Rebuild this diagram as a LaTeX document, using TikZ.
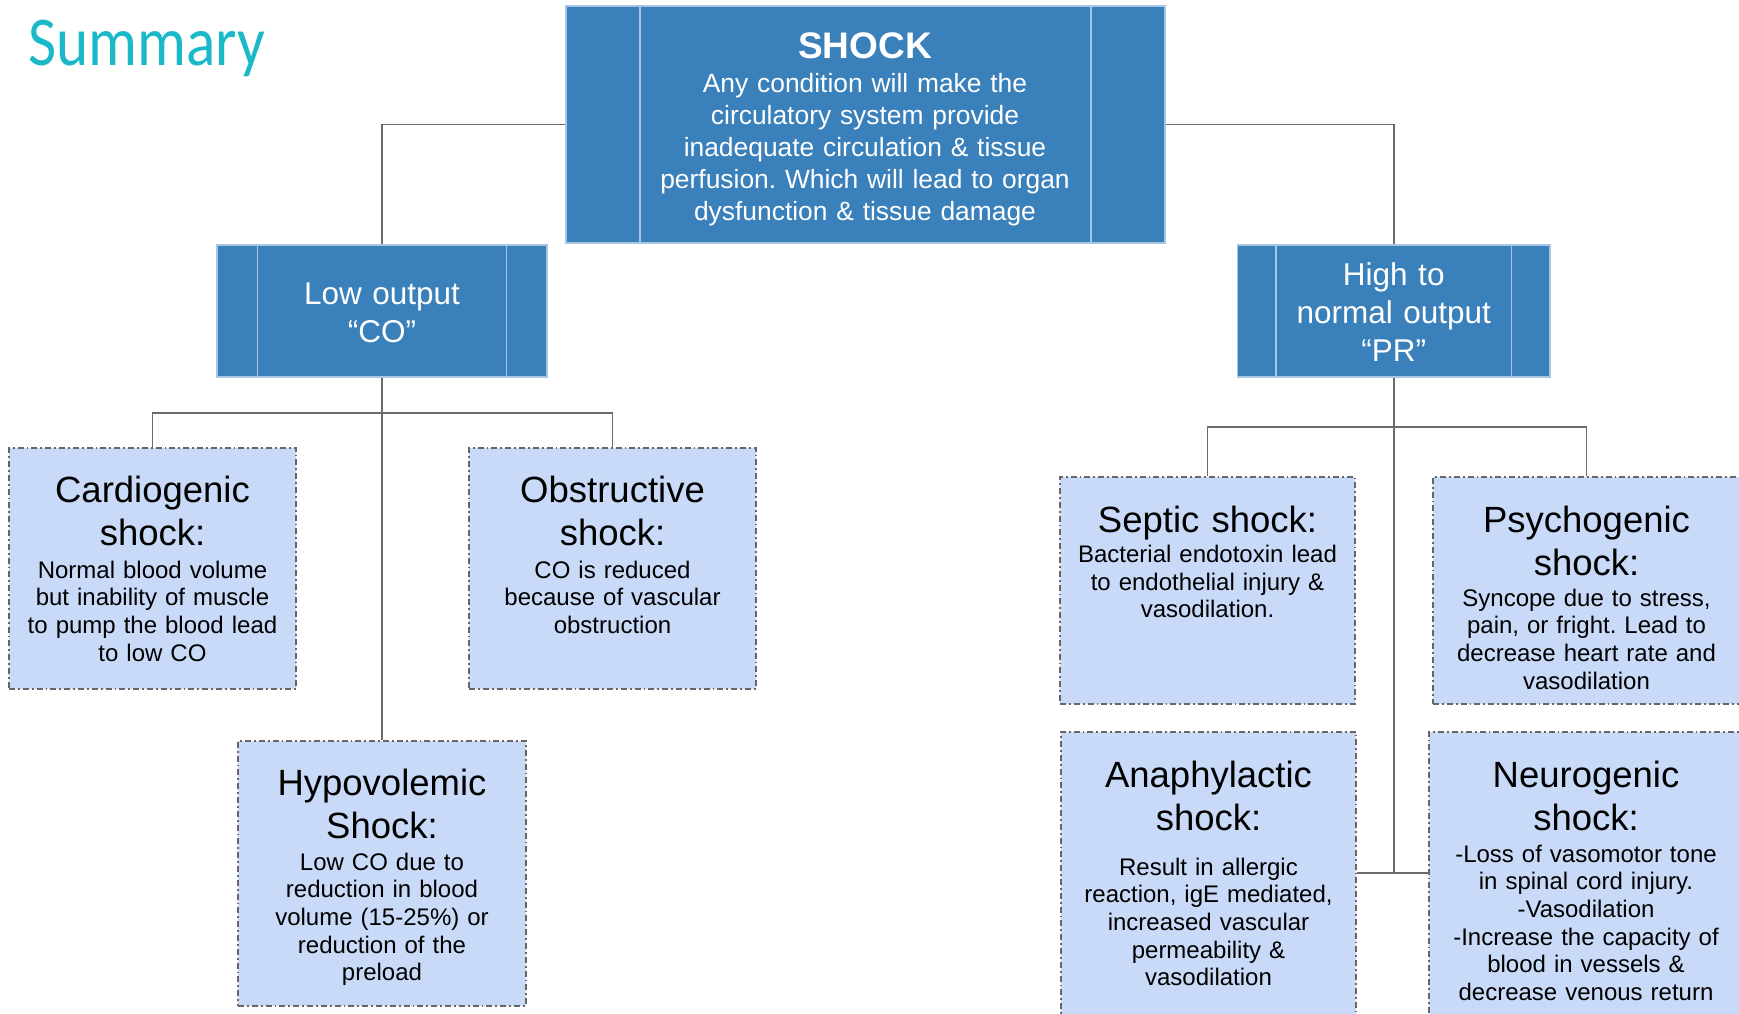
\documentclass[tikz,border=0pt]{standalone}
\usepackage{graphicx}
\usepackage{fontspec}
\setmainfont{Liberation Sans}
\newfontfamily\headfont{Carlito}
\frenchspacing

\definecolor{procblue}{HTML}{3A80BA}
\definecolor{procedge}{HTML}{A8C6E4}
\definecolor{typefill}{HTML}{C9DAF8}
\definecolor{typeedge}{HTML}{666666}
\definecolor{linkgray}{HTML}{6B6B6B}
\definecolor{headteal}{HTML}{1AB8C8}

\tikzset{
  proc/.style={rectangle, fill=procblue, draw=procedge, line width=1.2pt, inner sep=0pt,
    path picture={
      \draw[procedge, line width=1.2pt]
        ([xshift=#1]path picture bounding box.north west) -- ([xshift=#1]path picture bounding box.south west)
        ([xshift=-#1]path picture bounding box.north east) -- ([xshift=-#1]path picture bounding box.south east);
    }},
  typebox/.style={rectangle, fill=typefill, draw=typeedge, line width=1.4pt,
    dash pattern=on 6pt off 3pt on 1.8pt off 3pt, inner sep=0pt},
  link/.style={draw=linkgray, line width=1.8pt},
  txt/.style={anchor=base, inner sep=0pt, align=center, text width=#1},
  txt/.default=320pt,
  ttl/.style={txt, font=\fontsize{36.5}{43}\selectfont},
  bdy/.style={txt, font=\fontsize{24}{27.7}\selectfont},
  proctxt/.style={txt=#1, text=white},
}

\begin{document}
\begin{tikzpicture}[x=1pt, y=-1pt]
\useasboundingbox (0,0) rectangle (1739,1013);
\clip (0,0) rectangle (1739,1013);

% heading
\node[anchor=base west, inner sep=0pt, text=headteal, font=\headfont\fontsize{70}{70}\selectfont]
  (heading) at (28,65) {\scalebox{0.875}[1]{Summary}};

% top level and the two output classes
\node[proc=74pt, minimum width=599pt, minimum height=237pt] (shock) at (865.5,124.5) {};
\node[proctxt=200pt, font=\bfseries\fontsize{37}{43}\selectfont] (shock-t) at (865,58) {SHOCK};
\node[proctxt=450pt, font=\fontsize{26.4}{32}\selectfont] (shock-b) at (865,92)
  {Any condition will make the\\circulatory system provide\\inadequate circulation \& tissue\\perfusion. Which will lead to organ\\dysfunction \& tissue damage};

\node[proc=40.5pt, minimum width=330pt, minimum height=132pt] (low) at (382,311) {};
\node[proctxt=240pt, font=\fontsize{31.5}{38}\selectfont] (low-t) at (382,304) {Low output\\“CO”};

\node[proc=38.5pt, minimum width=312.5pt, minimum height=132pt] (high) at (1393.75,311) {};
\node[proctxt=240pt, font=\fontsize{31.5}{38}\selectfont] (high-t) at (1393.75,285) {High to\\normal output\\“PR”};

% low output types
\node[typebox, minimum width=287pt, minimum height=241pt] (cardio) at (152.5,568.5) {};
\node[ttl] (cardio-t) at (152.5,502) {Cardiogenic\\shock:};
\node[bdy] (cardio-b) at (152.5,578) {Normal blood volume\\but inability of muscle\\to pump the blood lead\\to low CO};

\node[typebox, minimum width=287pt, minimum height=241pt] (obstr) at (612.5,568.5) {};
\node[ttl] (obstr-t) at (612.5,502) {Obstructive\\shock:};
\node[bdy] (obstr-b) at (612.5,578) {CO is reduced\\because of vascular\\obstruction};

\node[typebox, minimum width=288pt, minimum height=265pt] (hypo) at (382,873.5) {};
\node[ttl] (hypo-t) at (382,795) {Hypovolemic\\Shock:};
\node[bdy] (hypo-b) at (382,870) {Low CO due to\\reduction in blood\\volume (15-25\%) or\\reduction of the\\preload};

% high to normal output types
\node[typebox, minimum width=295pt, minimum height=227pt] (septic) at (1207.5,590.5) {};
\node[ttl] (septic-t) at (1207.5,532) {Septic shock:};
\node[bdy] (septic-b) at (1207.5,562.5) {Bacterial endotoxin lead\\to endothelial injury \&\\vasodilation.};

\node[typebox, minimum width=307pt, minimum height=227pt] (psycho) at (1586.5,590.5) {};
\node[ttl] (psycho-t) at (1586.5,532) {Psychogenic\\shock:};
\node[bdy] (psycho-b) at (1586.5,606) {Syncope due to stress,\\pain, or fright. Lead to\\decrease heart rate and\\vasodilation};

\node[typebox, minimum width=295pt, minimum height=298pt] (anaph) at (1208.5,881) {};
\node[ttl] (anaph-t) at (1208.5,787) {Anaphylactic\\shock:};
\node[bdy] (anaph-b) at (1208.5,875) {Result in allergic\\reaction, igE mediated,\\increased vascular\\permeability \&\\vasodilation};

\node[typebox, minimum width=314pt, minimum height=298pt] (neuro) at (1586,881) {};
\node[ttl] (neuro-t) at (1586,787) {Neurogenic\\shock:};
\node[bdy] (neuro-b) at (1586,862) {-Loss of vasomotor tone\\in spinal cord injury.\\-Vasodilation\\-Increase the capacity of\\blood in vessels \&\\decrease venous return};

% connectors
\coordinate (lowfork) at (382,413);
\coordinate (highfork) at (1393.75,427);
\coordinate (neurofork) at (1393.75,873);

\draw[link] (shock.west) -| (low.north);
\draw[link] (shock.east) -| (high.north);
\draw[link] (low.south) -- (hypo.north);
\draw[link] (cardio.north) |- (lowfork) -| (obstr.north);
\draw[link] (high.south) -- (neurofork);
\draw[link] (septic.north) |- (highfork) -| (psycho.north);
\draw[link] (anaph.east |- neurofork) -- (neuro.west |- neurofork);
\end{tikzpicture}
\end{document}
